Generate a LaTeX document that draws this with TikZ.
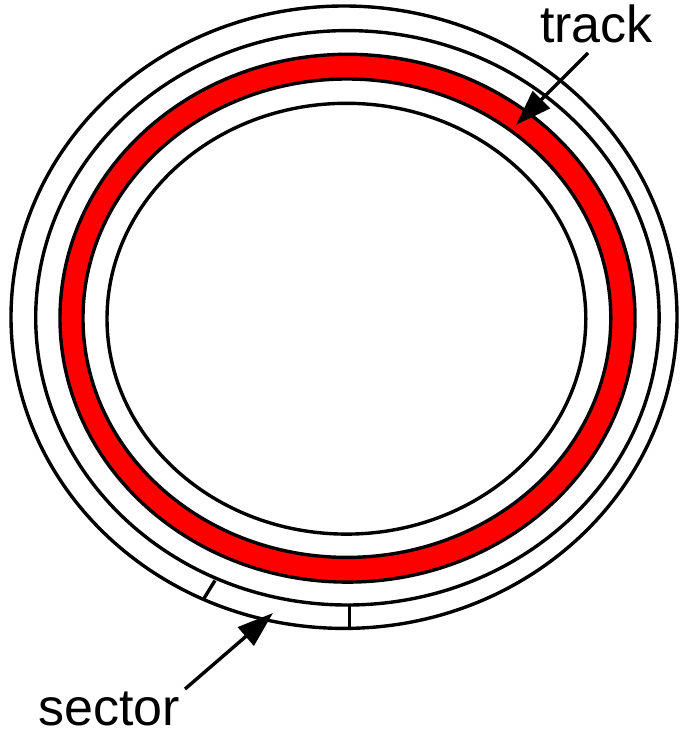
\documentclass[tikz,border=0pt]{standalone}
\usepackage{fontspec}
\setmainfont{Liberation Sans}
\usetikzlibrary{arrows.meta}
\begin{document}
\begin{tikzpicture}[x=1pt,y=-1pt,
  ring/.style={draw=black,line width=3.4pt},
  pointer/.style={draw=black,line width=3.4pt,-{Triangle[length=36pt,width=24pt]}},
  lbl/.style={font=\fontsize{52}{52}\selectfont,inner sep=0pt,anchor=base west}]
\useasboundingbox[fill=white] (0,0) rectangle (682,730);
% red track band
\fill[red,even odd rule] (347.5,318.2) ellipse [x radius=287.5pt,y radius=263.9pt]
                         (346.9,318.2) ellipse [x radius=263.9pt,y radius=239.2pt];
% ellipses
\draw[ring] (344,317.2) ellipse [x radius=333pt,y radius=311.2pt];
\draw[ring] (347.4,317.8) ellipse [x radius=311.7pt,y radius=287.2pt];
\draw[ring] (347.5,318.2) ellipse [x radius=287.5pt,y radius=263.9pt];
\draw[ring] (346.9,318.2) ellipse [x radius=263.9pt,y radius=239.2pt];
\draw[ring] (346.4,318.7) ellipse [x radius=239.4pt,y radius=215.4pt];
% sector boundaries
\coordinate (s1a) at (215,580.5);
\coordinate (s1b) at (203,600);
\coordinate (s2a) at (349.5,604);
\coordinate (s2b) at (349.5,629);
\draw[ring,line cap=butt] (s1a) -- (s1b);
\draw[ring,line cap=butt] (s2a) -- (s2b);
% labels
\node[lbl] (track) at (540,43) {track};
\node[lbl] (sector) at (38,725.5) {sector};
\coordinate (trackstart) at (588,53);
\coordinate (tracktip) at (516,125);
\coordinate (sectorstart) at (185,689);
\coordinate (sectortip) at (273,613);
\draw[pointer] (trackstart) -- (tracktip);
\draw[pointer] (sectorstart) -- (sectortip);
\end{tikzpicture}
\end{document}
